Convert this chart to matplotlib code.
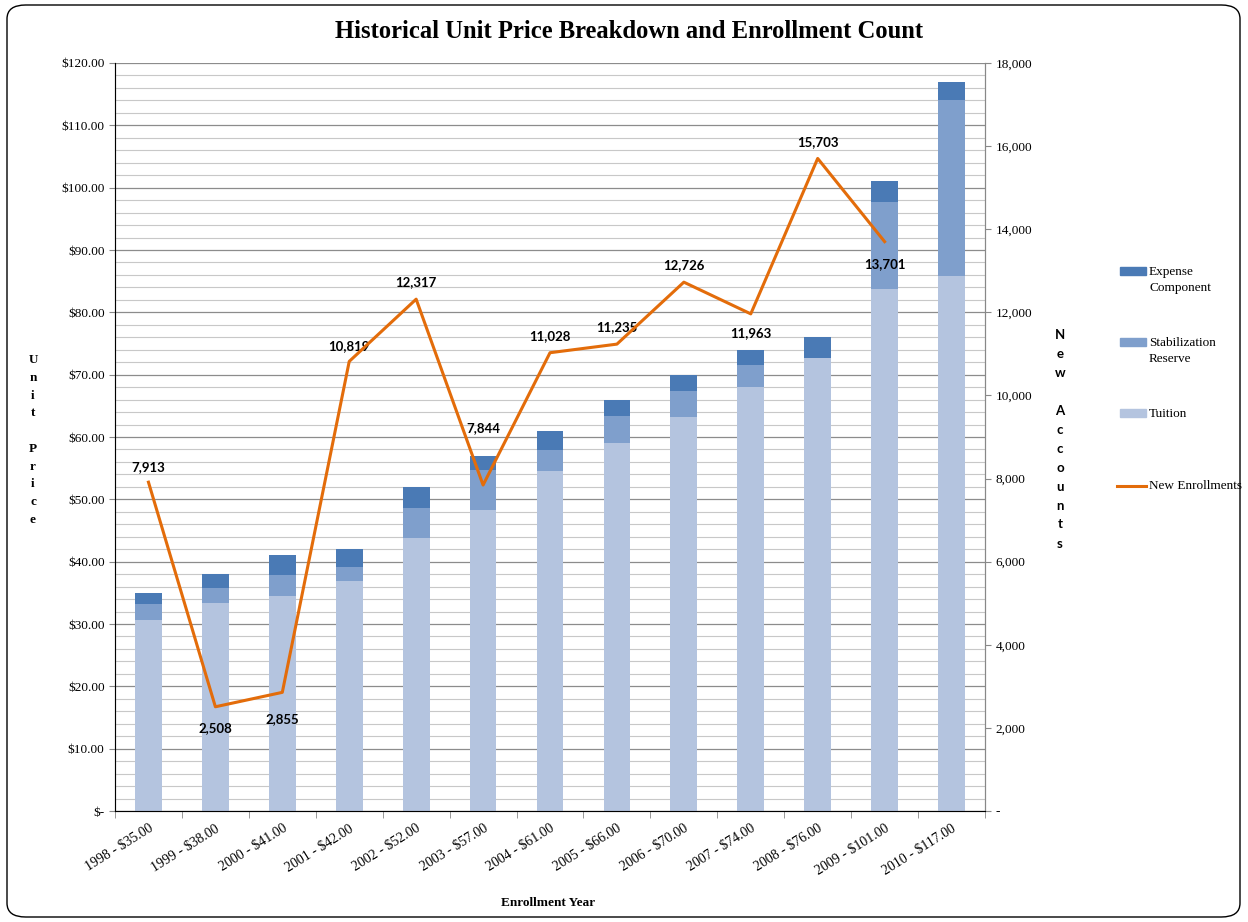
import numpy as np
import matplotlib.pyplot as plt
from matplotlib.patches import FancyBboxPatch, Rectangle
from matplotlib.ticker import FuncFormatter, MultipleLocator

years = ["1998 - $35.00", "1999 - $38.00", "2000 - $41.00", "2001 - $42.00", "2002 - $52.00",
         "2003 - $57.00", "2004 - $61.00", "2005 - $66.00", "2006 - $70.00", "2007 - $74.00",
         "2008 - $76.00", "2009 - $101.00", "2010 - $117.00"]
tuition = [30.6, 33.4, 34.5, 36.9, 43.8, 48.3, 54.5, 59.0, 63.2, 68.1, 72.6, 83.8, 85.8]
stabilization = [2.6, 2.4, 3.3, 2.3, 4.8, 6.4, 3.4, 4.4, 4.2, 3.5, 0.0, 13.9, 28.3]
expense = [1.8, 2.2, 3.2, 2.8, 3.4, 2.3, 3.1, 2.6, 2.6, 2.4, 3.4, 3.3, 2.9]
enrollments = [7913, 2508, 2855, 10819, 12317, 7844, 11028, 11235, 12726, 11963, 15703, 13701]

# label offsets (points) so the numbers sit like in the original
label_dy = [11, -15, -19, 11, 12, 41, 12, 12, 12, -14, 12, -16]

c_exp = "#4A7AB5"
c_stab = "#7F9FCC"
c_tui = "#B4C4DF"
c_line = "#E36C0A"

serif = "Liberation Serif"
W, H = 1248, 922

fig = plt.figure(figsize=(W / 100, H / 100), dpi=100)
ax = fig.add_axes([115 / W, 1 - 811 / H, 870 / W, 748 / H])

x = np.arange(len(years))
w = 0.4
ax.bar(x, tuition, w, color=c_tui, zorder=2)
ax.bar(x, stabilization, w, bottom=tuition, color=c_stab, zorder=2)
bot2 = np.array(tuition) + np.array(stabilization)
ax.bar(x, expense, w, bottom=bot2, color=c_exp, zorder=2)

ax.set_xlim(-0.5, len(years) - 0.5)
ax.set_ylim(0, 120)
ax.yaxis.set_major_locator(MultipleLocator(10))
ax.yaxis.set_minor_locator(MultipleLocator(2))
ax.yaxis.set_major_formatter(FuncFormatter(lambda v, p: "$-" if v == 0 else "${:,.2f}".format(v)))
ax.grid(axis="y", which="major", color="#8c8c8c", lw=0.9, zorder=0)
ax.grid(axis="y", which="minor", color="#c8c8c8", lw=0.8, zorder=0)
ax.tick_params(axis="y", which="minor", length=0)
ax.tick_params(axis="y", which="major", length=4, color="#888888", labelsize=9.5)

ax.set_xticks(x)
ax.set_xticklabels(years, rotation=32, ha="right", rotation_mode="anchor", fontsize=10, family=serif)
ax.set_xticks(np.arange(-0.5, len(years)), minor=True)
ax.tick_params(axis="x", which="major", length=0, pad=8)
ax.tick_params(axis="x", which="minor", length=5, color="#888888")
for lab in ax.get_yticklabels():
    lab.set_family(serif)

ax.spines["top"].set_visible(False)
for s in ["left", "bottom", "right"]:
    ax.spines[s].set_color("#888888")

ax2 = ax.twinx()
ax2.plot(x[:len(enrollments)], enrollments, color=c_line, lw=2.2, zorder=5)
ax2.set_ylim(0, 18000)
ax2.yaxis.set_major_locator(MultipleLocator(2000))
ax2.yaxis.set_major_formatter(FuncFormatter(lambda v, p: "-" if v == 0 else "{:,.0f}".format(v)))
ax2.tick_params(axis="y", length=4, color="#888888", labelsize=9.5)
ax2.spines["top"].set_visible(False)
ax2.spines["right"].set_color("#888888")
for lab in ax2.get_yticklabels():
    lab.set_family(serif)

for i, v in enumerate(enrollments):
    ax2.annotate("{:,}".format(v), (x[i], v), xytext=(0, label_dy[i]), textcoords="offset points",
                 ha="center", va="center", fontsize=9.5, fontweight="bold", family="Lato")

fig.text(629 / W, 1 - 32 / H, "Historical Unit Price Breakdown and Enrollment Count",
         ha="center", va="center", fontsize=17.7, fontweight="bold", family=serif)
fig.text(548 / W, 1 - 903 / H, "Enrollment Year", ha="center", va="center",
         fontsize=9.5, fontweight="bold", family=serif)
fig.text(33 / W, 1 - 440 / H, "\n".join(list("Unit Price")), ha="center", va="center",
         fontsize=9.5, fontweight="bold", family=serif, linespacing=1.64)
fig.text(1060 / W, 1 - 439 / H, "\n".join(list("New Accounts")), ha="center", va="center",
         fontsize=9.5, fontweight="bold", family="Lato", linespacing=1.7)

# legend, placed by hand to keep the wide spacing of the original
legend_items = [(["Expense", "Component"], c_exp, "patch", 272),
                (["Stabilization", "Reserve"], c_stab, "patch", 343),
                (["Tuition"], c_tui, "patch", 414),
                (["New Enrollments"], c_line, "line", 486)]
for lines, col, kind, yc in legend_items:
    if kind == "patch":
        fig.patches.append(Rectangle((1120 / W, 1 - (yc + 3) / H), 26 / W, 8 / H,
                                     transform=fig.transFigure, color=col))
    else:
        fig.add_artist(plt.Line2D([1117 / W, 1146 / W], [1 - yc / H, 1 - yc / H],
                                  color=col, lw=2.2, transform=fig.transFigure))
    for k, t in enumerate(lines):
        fig.text(1149 / W, 1 - (yc + 16 * k) / H, t, ha="left", va="center",
                 fontsize=9.5, family=serif)

border = FancyBboxPatch((7 / W, 5 / H), 1233 / W, 912 / H, boxstyle="round,pad=0,rounding_size=0.015",
                        transform=fig.transFigure, fill=False, ec="black", lw=1.0)
fig.patches.append(border)

fig.savefig("out.png", dpi=100)
